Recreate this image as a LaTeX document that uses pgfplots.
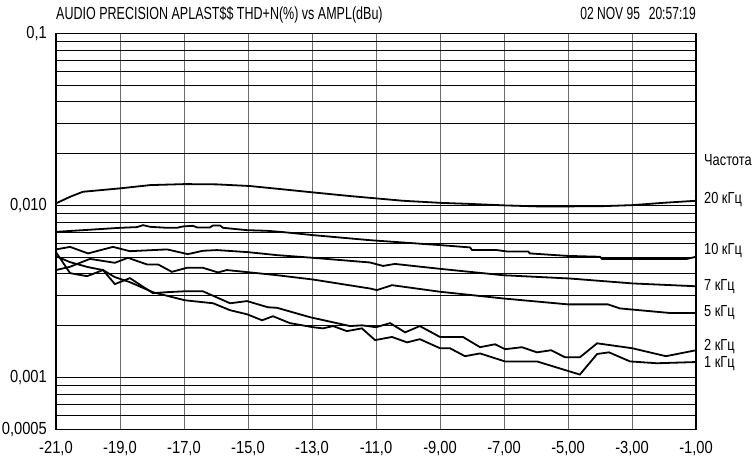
\documentclass[border=0pt]{standalone}
\usepackage{fontspec}
\setmainfont{Liberation Sans}
\newfontfamily\tickfont[FakeStretch=0.84]{Liberation Sans}
\newfontfamily\titlefont[FakeStretch=0.715]{Liberation Sans}
\newfontfamily\headfont[FakeStretch=0.69]{Liberation Sans}
\newfontfamily\labfont[FakeStretch=0.8]{Liberation Sans}
\usepackage{pgfplots}
\pgfplotsset{compat=1.18}
\begin{document}
\begin{tikzpicture}
\useasboundingbox (-56bp,-30.7bp) rectangle (699bp,429.3bp);
\begin{axis}[
  at={(0,0)}, anchor=south west,
  scale only axis, width=640bp, height=396bp,
  xmin=-21, xmax=-1, ymin=0.0005, ymax=0.1, ymode=log,
  clip=false,
  xtick={-21,-19,...,-1},
  xticklabels={{-21{,}0},{-19{,}0},{-17{,}0},{-15{,}0},{-13{,}0},{-11{,}0},{-9{,}00},{-7{,}00},{-5{,}00},{-3{,}00},{-1{,}00}},
  ytick={0.001,0.01,0.1},
  yticklabels={{0{,}001},{0{,}010},{0{,}1}},
  extra y ticks={0.0005}, extra y tick labels={0{,}0005},
  minor ytick={0.0006,0.0007,0.0008,0.0009,0.002,0.003,0.004,0.005,0.006,0.007,0.008,0.009,0.02,0.03,0.04,0.05,0.06,0.07,0.08,0.09},
  major tick length=0pt, minor tick length=0pt,
  xmajorgrids, ymajorgrids, yminorgrids,
  x grid style={gray!85!black, line width=1bp},
  y grid style={black, line width=0.8bp},
  axis line style={black, line width=1.2bp},
  xticklabel style={font=\tickfont\fontsize{17.5bp}{20bp}\selectfont, inner sep=0pt, anchor=north, yshift=-12bp},
  yticklabel style={font=\tickfont\fontsize{17.5bp}{20bp}\selectfont, inner sep=0pt, anchor=east, xshift=-9bp},
]
\addplot[black, line width=1.8bp] coordinates {(-21,0.01028) (-20.56,0.01122) (-20.16,0.0120) (-19.0,0.01256) (-18.06,0.01312) (-16.97,0.0133) (-15.98,0.01325) (-14.94,0.01296) (-13.91,0.0124) (-12.97,0.0119) (-11.81,0.01133) (-11.03,0.0110) (-10.16,0.01064) (-9.0,0.01035) (-8.06,0.0102) (-6.97,0.0100) (-5.97,0.00987) (-4.94,0.00987) (-3.91,0.0099) (-2.97,0.01004) (-2.03,0.01035) (-1.0,0.01064)};
\addplot[black, line width=1.8bp] coordinates {(-21,0.00702) (-20.16,0.00718) (-19.0,0.00741) (-18.47,0.00748) (-18.28,0.00768) (-18.06,0.00751) (-17.53,0.00741) (-17.22,0.00741) (-17.03,0.00755) (-16.72,0.00761) (-16.59,0.00745) (-16.19,0.00745) (-16.09,0.00765) (-15.88,0.00765) (-15.78,0.00741) (-15.03,0.00718) (-14.41,0.00712) (-13.91,0.00700) (-12.97,0.00672) (-11.19,0.00628) (-9.0,0.00588) (-8.06,0.00570) (-8.0,0.00550) (-7.22,0.00550) (-6.91,0.00540) (-6.25,0.00540) (-6.19,0.00526) (-5.03,0.00509) (-4.0,0.00503) (-3.94,0.00489) (-1.28,0.00489) (-1.0,0.00503)};
\addplot[black, line width=1.8bp] coordinates {(-21,0.00555) (-20.56,0.00574) (-20.0,0.00526) (-19.22,0.00574) (-18.69,0.00542) (-17.53,0.00555) (-16.88,0.00521) (-16.41,0.00545) (-15.97,0.00550) (-15.0,0.00535) (-14.09,0.00514) (-12.97,0.00496) (-11.19,0.00466) (-10.78,0.00445) (-10.41,0.00457) (-9.0,0.00428) (-7.03,0.00393) (-4.94,0.00376) (-2.97,0.00352) (-1.0,0.00339)};
\addplot[black, line width=1.8bp] coordinates {(-21,0.00421) (-20.56,0.00440) (-19.94,0.00489) (-19.16,0.00464) (-18.75,0.00496) (-18.16,0.00454) (-17.81,0.00454) (-17.38,0.00411) (-16.91,0.00434) (-16.41,0.00434) (-15.94,0.00408) (-15.66,0.00421) (-14.94,0.00408) (-14.09,0.00393) (-12.97,0.00371) (-11.19,0.00329) (-10.97,0.00322) (-10.5,0.00344) (-9.0,0.00315) (-7.03,0.00288) (-5.0,0.00266) (-3.75,0.00266) (-3.38,0.00252) (-1.81,0.00237) (-1.0,0.00237)};
\addplot[black, line width=1.8bp] coordinates {(-21,0.00535) (-20.56,0.00404) (-20.03,0.00388) (-19.53,0.00421) (-19.16,0.00349) (-18.69,0.00378) (-17.97,0.00309) (-17.56,0.00313) (-16.97,0.00317) (-16.41,0.00317) (-15.56,0.00270) (-15.03,0.00278) (-14.38,0.00256) (-14.09,0.00254) (-13.06,0.00224) (-11.81,0.00199) (-11.44,0.00201) (-11.0,0.00196) (-10.56,0.00207) (-10.09,0.00183) (-9.63,0.00199) (-9.0,0.00172) (-8.28,0.00172) (-7.75,0.00150) (-7.28,0.00156) (-6.97,0.00146) (-6.44,0.00150) (-5.97,0.00140) (-5.53,0.00144) (-5.09,0.00131) (-4.63,0.00131) (-4.09,0.00158) (-3.0,0.00148) (-1.94,0.00133) (-1.0,0.00144)};
\addplot[black, line width=1.8bp] coordinates {(-21,0.00507) (-20.56,0.00468) (-20,0.00438) (-19.53,0.00421) (-19.16,0.00383) (-18.69,0.00358) (-17.97,0.00313) (-16.97,0.00281) (-16.09,0.00270) (-15.56,0.00246) (-15.03,0.00233) (-14.56,0.00215) (-14.22,0.00227) (-13.69,0.00207) (-12.97,0.00196) (-12.66,0.00193) (-12.34,0.00199) (-11.91,0.00186) (-11.44,0.00193) (-11.03,0.00165) (-10.5,0.00172) (-10.03,0.00160) (-9.63,0.00167) (-9,0.00148) (-8.69,0.00148) (-8.22,0.00133) (-7.75,0.00138) (-6.97,0.00124) (-5.97,0.00124) (-4.63,0.00104) (-4.09,0.00137) (-3.72,0.00140) (-3.06,0.00124) (-2.22,0.00121) (-1,0.00123)};
\node[anchor=base west, inner sep=0pt, font=\titlefont\fontsize{17.5bp}{19bp}\selectfont, yshift=14bp] at (rel axis cs:0,1) {AUDIO PRECISION APLAST\$\$ THD+N(\%) vs AMPL(dBu)};
\node[anchor=base east, inner sep=0pt, font=\headfont\fontsize{17.5bp}{19bp}\selectfont, yshift=14bp] at (rel axis cs:1,1) {02 NOV 95\enspace 20:57:19};
\begin{scope}[every node/.style={anchor=west, inner sep=0pt, xshift=8bp, font=\labfont\fontsize{16bp}{18bp}\selectfont}]
\node at (axis cs:-1,0.01834) {Частота};
\node at (axis cs:-1,0.01088) {20 кГц};
\node at (axis cs:-1,0.00550) {10 кГц};
\node at (axis cs:-1,0.00339) {7 кГц};
\node at (axis cs:-1,0.00237) {5 кГц};
\node at (axis cs:-1,0.00152) {2 кГц};
\node at (axis cs:-1,0.00121) {1 кГц};
\end{scope}
\end{axis}
\end{tikzpicture}
\end{document}
